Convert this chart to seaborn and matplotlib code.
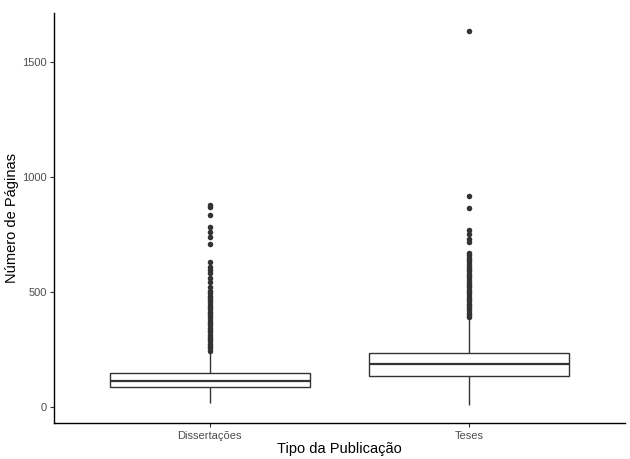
import pandas as pd
import matplotlib.pyplot as plt
import seaborn as sns

# Style proche du theme_classic de ggplot
sns.set_theme(style="ticks")
plt.rcParams['font.family'] = ['Liberation Sans', 'DejaVu Sans']

categorias = ["Dissertações", "Teses"]

# Résumé des boîtes : moustache basse, Q1, médiane, Q3, moustache haute
resumo_dissertacoes = [17, 87, 113, 148, 239]
resumo_teses = [10, 134, 186, 235, 386]

# Valeurs aberrantes
outliers_dissertacoes = [245, 255, 265, 275, 285, 295, 305, 315, 325, 335, 345,
                         355, 365, 375, 385, 395, 405, 415, 425, 435, 445, 455,
                         465, 475, 485, 495, 505, 520, 542, 560, 581, 598, 611,
                         633, 711, 742, 763, 785, 837, 872, 880]
outliers_teses = [392, 400, 410, 420, 430, 440, 450, 460, 470, 480, 490, 500,
                  510, 520, 530, 540, 550, 560, 570, 580, 590, 600, 610, 620,
                  630, 640, 650, 660, 672, 720, 733, 755, 772, 867, 920, 1635]

caixas = pd.DataFrame({
    'tipo': [categorias[0]] * len(resumo_dissertacoes) + [categorias[1]] * len(resumo_teses),
    'paginas': resumo_dissertacoes + resumo_teses,
})
pontos = pd.DataFrame({
    'tipo': [categorias[0]] * len(outliers_dissertacoes) + [categorias[1]] * len(outliers_teses),
    'paginas': outliers_dissertacoes + outliers_teses,
})

fig = plt.figure(figsize=(6.3, 4.59), dpi=100)
ax = fig.add_axes([0.086, 0.078, 0.906, 0.894])

sns.boxplot(data=caixas, x='tipo', y='paginas', order=categorias, width=0.77,
            color='white', linecolor='#333333', linewidth=1.0, showfliers=False,
            showcaps=False,
            medianprops={'linewidth': 1.6, 'color': '#333333'}, ax=ax)
sns.stripplot(data=pontos, x='tipo', y='paginas', order=categorias, jitter=False,
              color='#333333', size=4.0, linewidth=0, ax=ax)

ax.set_xlim(-0.6, 1.6)
ax.set_ylim(-71, 1716)
ax.set_yticks([0, 500, 1000, 1500])
ax.set_xlabel("Tipo da Publicação", fontsize=10.5, color='black', labelpad=1)
ax.set_ylabel("Número de Páginas", fontsize=10.5, color='black', labelpad=2)
ax.tick_params(axis='both', labelsize=8, labelcolor='#4D4D4D', color='#333333',
               length=3, width=0.8, pad=2.5)
for lado in ['left', 'bottom']:
    ax.spines[lado].set_color('black')
    ax.spines[lado].set_linewidth(1.0)
sns.despine(ax=ax)

fig.savefig("out.png", dpi=100)
